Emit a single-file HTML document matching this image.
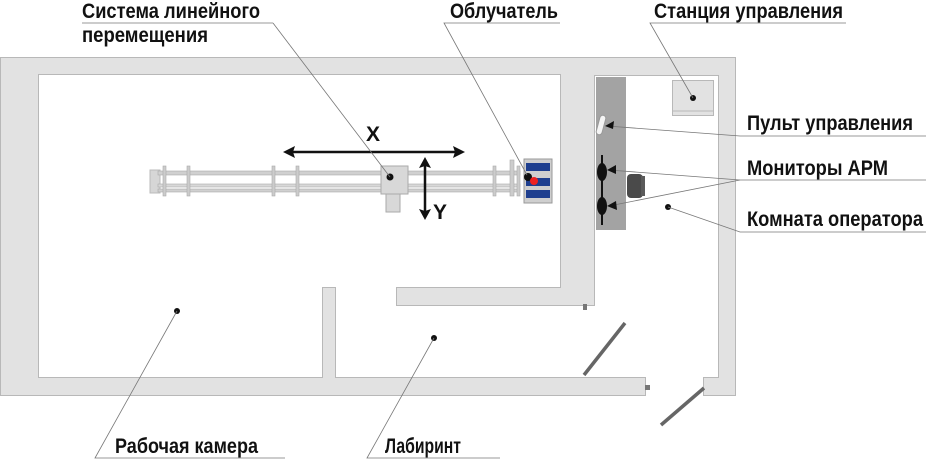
<!DOCTYPE html>
<html><head><meta charset="utf-8"><style>
html,body{margin:0;padding:0;background:#fff;width:926px;height:460px;overflow:hidden}
text{font-family:"Liberation Sans Narrow","Liberation Sans",sans-serif;font-weight:bold;font-size:21px;fill:#111}
</style></head><body>
<svg width="926" height="460" viewBox="0 0 926 460" xmlns="http://www.w3.org/2000/svg">
<g fill="#e2e2e2" stroke="#b8b8b8" stroke-width="1">
<path d="M0.5,57.5 H735.5 V395.5 H703.5 V377.5 H718.5 V75.5 H594.5 V305.5 H396.5 V287.5 H560.5 V74.5 H38.5 V377.5 H322.5 V287.5 H335.5 V377.5 H645.5 V395.5 H0.5 Z"/>
</g>
<rect x="596" y="77" width="30" height="153" fill="#a3a3a3"/>
<rect x="672.5" y="80.5" width="41" height="35" fill="#e2e2e2" stroke="#b8b8b8"/>
<line x1="672" y1="111" x2="714" y2="111" stroke="#b8b8b8"/>
<rect x="627" y="174" width="16" height="24" rx="4" fill="#4a4a4a"/>
<rect x="641" y="176" width="4" height="20" fill="#5a5a5a"/>
<rect x="598" y="115" width="6" height="20" rx="3" fill="#f4f4f4" stroke="#999" transform="rotate(15 601 125)"/>
<g fill="#111">
<ellipse cx="602" cy="172" rx="5" ry="9"/><rect x="601" y="155" width="2" height="35"/>
<ellipse cx="602" cy="206" rx="5" ry="9"/><rect x="601" y="190" width="2" height="35"/>
</g>
<g>
<rect x="150" y="170" width="10" height="23" fill="#d6d6d6" stroke="#bbb"/>
<rect x="158" y="171" width="362" height="4" fill="#d0d0d0" stroke="#aaa" stroke-width=".6"/>
<rect x="158" y="184" width="362" height="3" fill="#d8d8d8" stroke="#aaa" stroke-width=".6"/>
<rect x="158" y="189" width="362" height="3" fill="#d0d0d0" stroke="#aaa" stroke-width=".6"/>
<g fill="#ccc" stroke="#aaa" stroke-width=".6">
<rect x="163" y="166" width="3" height="30"/><rect x="187" y="166" width="3" height="30"/>
<rect x="272" y="166" width="3" height="30"/><rect x="296" y="166" width="3" height="30"/>
<rect x="493" y="166" width="3" height="30"/><rect x="510" y="160" width="4" height="36"/><rect x="517" y="166" width="3" height="30"/>
</g>
<rect x="381" y="166" width="27" height="28" fill="#d8d8d8" stroke="#aaa"/>
<rect x="386" y="194" width="14" height="18" fill="#d8d8d8" stroke="#aaa"/>
<circle cx="390" cy="177" r="3.5" fill="#111"/>
</g>
<rect x="524" y="159" width="28" height="44" fill="#cfcfcf" stroke="#999"/>
<rect x="526" y="163" width="24" height="8" fill="#1f3f8f"/>
<rect x="526" y="178" width="24" height="8" fill="#1f3f8f"/>
<rect x="526" y="190" width="24" height="8" fill="#1f3f8f"/>
<circle cx="528" cy="177" r="4" fill="#111"/>
<circle cx="534" cy="181" r="4" fill="#e22"/>
<g stroke="#111" stroke-width="2.5">
<line x1="292" y1="152" x2="456" y2="152"/>
<line x1="425" y1="166" x2="425" y2="211"/>
</g>
<g fill="#111">
<path d="M283,152 L295,146 L293,152 L295,158 Z"/>
<path d="M465,152 L453,146 L455,152 L453,158 Z"/>
<path d="M425,157 L419,168 L425,166 L431,168 Z"/>
<path d="M425,220 L419,209 L425,211 L431,209 Z"/>
</g>
<text x="366" y="141" font-size="21">X</text>
<text x="433" y="219" font-size="21">Y</text>
<g stroke="#666" stroke-width="3.5"><line x1="625" y1="323" x2="584" y2="375"/><line x1="704" y1="388" x2="661" y2="425"/></g>
<rect x="583" y="304" width="4" height="6" fill="#777"/><rect x="645" y="385" width="5" height="5" fill="#777"/>
<g fill="#111"><circle cx="693" cy="98" r="3"/><circle cx="668" cy="207" r="3"/><circle cx="177" cy="311" r="3"/><circle cx="434" cy="338" r="3"/></g>
<g stroke="#777" stroke-width=".8" fill="none">
<polyline points="273,23 82,23"/><line x1="273" y1="23" x2="390" y2="177"/>
<polyline points="560,23 444,23 527,175"/>
<polyline points="846,23 650,23 693,98"/>
<polyline points="926,136 740,136 607,126"/>
<polyline points="926,180 740,180 609,170"/>
<line x1="740" y1="180" x2="609" y2="206"/>
<polyline points="926,232 740,232 668,207"/>
<polyline points="285,458 95,458 177,311"/>
<polyline points="500,458 367,458 434,338"/>
</g>
<g fill="#111"><path d="M605,126 L614,121 L613,129 Z"/><path d="M607,170 L616,165 L616,174 Z"/><path d="M607,206 L616,201 L617,210 Z"/></g>
<text x="82" y="18" textLength="178" lengthAdjust="spacingAndGlyphs">Система линейного</text>
<text x="82" y="42" textLength="126" lengthAdjust="spacingAndGlyphs">перемещения</text>
<text x="450" y="18" textLength="108" lengthAdjust="spacingAndGlyphs">Облучатель</text>
<text x="654" y="18" textLength="189" lengthAdjust="spacingAndGlyphs">Станция управления</text>
<text x="747" y="130" textLength="166" lengthAdjust="spacingAndGlyphs">Пульт управления</text>
<text x="747" y="175" textLength="141" lengthAdjust="spacingAndGlyphs">Мониторы АРМ</text>
<text x="747" y="226" textLength="176" lengthAdjust="spacingAndGlyphs">Комната оператора</text>
<text x="115" y="453" textLength="143" lengthAdjust="spacingAndGlyphs">Рабочая камера</text>
<text x="385" y="453" textLength="76" lengthAdjust="spacingAndGlyphs">Лабиринт</text>
</svg>
</body></html>
